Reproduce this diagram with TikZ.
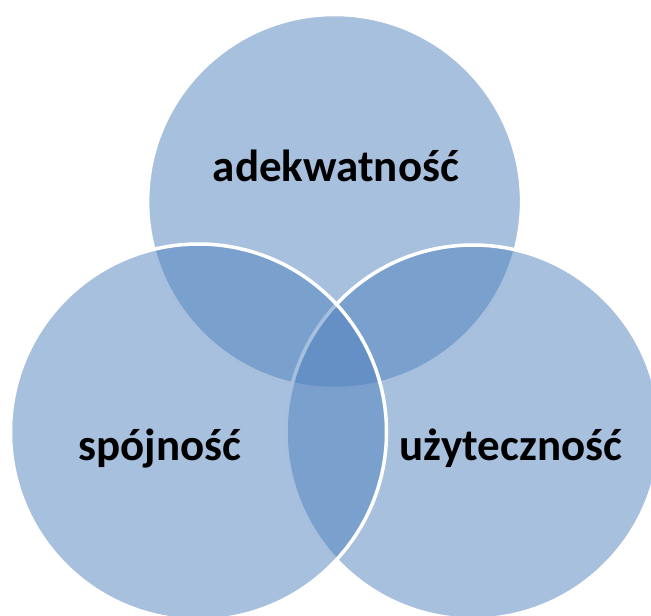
\documentclass[tikz,border=0pt]{standalone}
\usepackage{fontspec}
\setmainfont{Carlito}
\usetikzlibrary{positioning}

\definecolor{vennblue}{RGB}{79,129,189}
\tikzset{
  venn/.style={fill=vennblue, fill opacity=0.5, draw=white, line width=2pt},
  lbl/.style={font=\fontsize{25.6}{30}\selectfont\bfseries, anchor=base, inner sep=0pt}
}

\begin{document}
\begin{tikzpicture}[x=0.02cm,y=-0.02cm]
  \clip (0,0) rectangle (651,615);
  % centres of the three sets
  \coordinate (cTop) at (334.6,201.5);
  \coordinate (cRight) at (473,432);
  \coordinate (cLeft) at (198.5,432);

  \draw[venn] (cTop) circle[radius=187];
  \draw[venn] (cRight) circle[radius=187];
  \draw[venn] (cLeft) circle[radius=188];

  \node[lbl] (adek) at (336,181) {adekwatność};
  \node[lbl] (spoj) at (160,460) {spójność};
  \node[lbl] (uzyt) at (511,460) {użyteczność};
\end{tikzpicture}
\end{document}
